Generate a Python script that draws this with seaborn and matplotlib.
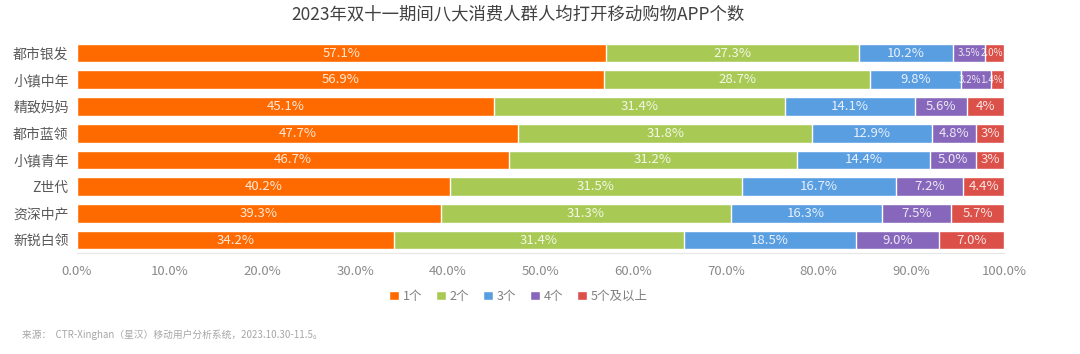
import numpy as np
import pandas as pd
import seaborn as sns
import matplotlib.pyplot as plt
from matplotlib.patches import Patch

groups = ["都市银发", "小镇中年", "精致妈妈", "都市蓝领", "小镇青年", "Z世代", "资深中产", "新锐白领"]
series = ["1个", "2个", "3个", "4个", "5个及以上"]
one = [57.1, 56.9, 45.1, 47.7, 46.7, 40.2, 39.3, 34.2]
two = [27.3, 28.7, 31.4, 31.8, 31.2, 31.5, 31.3, 31.4]
three = [10.2, 9.8, 14.1, 12.9, 14.4, 16.7, 16.3, 18.5]
four = [3.5, 3.2, 5.6, 4.8, 5.0, 7.2, 7.5, 9.0]
five = [2.0, 1.4, 4, 3, 3, 4.4, 5.7, 7.0]
labels_txt = [
    ["57.1%", "56.9%", "45.1%", "47.7%", "46.7%", "40.2%", "39.3%", "34.2%"],
    ["27.3%", "28.7%", "31.4%", "31.8%", "31.2%", "31.5%", "31.3%", "31.4%"],
    ["10.2%", "9.8%", "14.1%", "12.9%", "14.4%", "16.7%", "16.3%", "18.5%"],
    ["3.5%", "3.2%", "5.6%", "4.8%", "5.0%", "7.2%", "7.5%", "9.0%"],
    ["2.0%", "1.4%", "4%", "3%", "3%", "4.4%", "5.7%", "7.0%"],
]
colors = ["#FF6A00", "#A8CA55", "#5A9EE2", "#8767BC", "#DB5048"]

sns.set_theme(style="white")
plt.rcParams['font.family'] = ['Noto Sans CJK SC', 'DejaVu Sans']

vals = np.array([one, two, three, four, five])
# stacked to 100%
vals = vals / vals.sum(axis=0) * 100
cum = np.cumsum(vals, axis=0)

fig = plt.figure(figsize=(10.8, 3.54), dpi=100)
ax = fig.add_axes([0.0713, 0.284, 0.8583, 0.604])

# draw from the longest cumulative bar down so the earlier segments sit on top
for i in range(len(series) - 1, -1, -1):
    df = pd.DataFrame({"group": groups, "value": cum[i]})
    sns.barplot(data=df, x="value", y="group", color=colors[i], width=0.7,
                saturation=1, ax=ax, orient="h")

last = len(series) - 1
for i in range(len(series)):
    start = cum[i] - vals[i]
    for j, g in enumerate(groups):
        xc = start[j] + vals[i][j] / 2
        ha = "center"
        fs = 9.5
        # the two thin end segments of the top rows: squeeze labels so they don't collide
        if vals[last][j] < 2.5 and i >= last - 1:
            fs = 7
            if i == last:
                xc, ha = 99.9, "right"
            else:
                xc = min(xc, 96.3)
        ax.text(xc, j, labels_txt[i][j], ha=ha, va="center",
                color="white", alpha=0.85, fontsize=fs)

ax.set_xlim(0, 100)
ax.set_ylim(len(groups) - 0.5, -0.5)
ax.set_xticks(np.arange(0, 101, 10))
ax.set_xticklabels([f"{t:.1f}%" for t in np.arange(0, 101, 10)])
ax.set_xlabel("")
ax.set_ylabel("")
ax.tick_params(axis="x", colors="#8a8a8a", labelsize=9.5, pad=8, length=0)
ax.tick_params(axis="y", colors="#595959", labelsize=10, pad=6, length=0)
for s in ["top", "right", "left"]:
    ax.spines[s].set_visible(False)
ax.spines["bottom"].set_color("#e6e6e6")
ax.spines["bottom"].set_linewidth(0.8)

fig.suptitle("2023年双十一期间八大消费人群人均打开移动购物APP个数", x=0.48, y=0.985,
             fontsize=12.5, color="#404040")

handles = [Patch(facecolor=c, label=s) for c, s in zip(colors, series)]
fig.legend(handles=handles, loc="center", bbox_to_anchor=(0.48, 0.163), ncol=5,
           frameon=False, fontsize=9, labelcolor="#7f7f7f", handlelength=0.8,
           handleheight=0.8, handletextpad=0.3, columnspacing=1.1)

fig.text(0.02, 0.045, "来源：  CTR-Xinghan（星汉）移动用户分析系统，2023.10.30-11.5。",
         fontsize=7, color="#a6a6a6")

fig.savefig("out.png", dpi=100)
